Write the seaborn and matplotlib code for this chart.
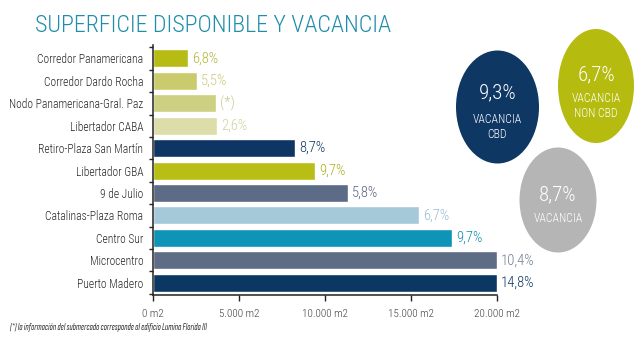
import matplotlib
matplotlib.use("Agg")
import matplotlib.pyplot as plt
import seaborn as sns
import pandas as pd
from matplotlib.patches import Ellipse
from matplotlib.ticker import FixedLocator

categories = ["Corredor Panamericana", "Corredor Dardo Rocha", "Nodo Panamericana-Gral. Paz",
              "Libertador CABA", "Retiro-Plaza San Martín", "Libertador GBA", "9 de Julio",
              "Catalinas-Plaza Roma", "Centro Sur", "Microcentro", "Puerto Madero"]
superficie = [2040, 2540, 3660, 3740, 8280, 9400, 11340, 15470, 17380, 20000, 20000]
vacancia_labels = ["6,8%", "5,5%", "(*)", "2,6%", "8,7%", "9,7%", "5,8%", "6,7%", "9,7%", "10,4%", "14,8%"]
bar_colors = ["#B7BC14", "#C9CB6C", "#CDCF82", "#DCDDA8", "#0F3564", "#B8BE14", "#5C6B86",
              "#A6C9DA", "#0E94B6", "#5E6C85", "#0D3763"]
label_colors = ["#B3B536", "#C9C97E", "#C9CA90", "#D0D1A0", "#0F3564", "#ADB01A", "#55647E",
                "#98BDD0", "#0E8BAE", "#717E93", "#0D3763"]
x_ticks = [0, 5000, 10000, 15000, 20000]
x_tick_labels = ["0 m2", "5.000 m2", "10.000 m2", "15.000 m2", "20.000 m2"]

circle_values = ["9,3%", "6,7%", "8,7%"]
circle_captions = ["VACANCIA\nCBD", "VACANCIA\nNON CBD", "VACANCIA"]
circle_colors = ["#0F3764", "#B5BC0F", "#B5B5B5"]

title = "SUPERFICIE DISPONIBLE Y VACANCIA"
footnote = "(*) la información del submercado corresponde al edificio Lumina Florida III"

sns.set_theme(style="white")
NARROW = ["Roboto Condensed", "Archivo Narrow", "Liberation Sans", "DejaVu Sans"]
FOOT = ["Sofia Sans Extra Condensed", "Open Sans Condensed", "Roboto Condensed", "DejaVu Sans"]
plt.rcParams["font.family"] = NARROW
plt.rcParams["font.weight"] = 300

W, H = 640, 338
fig = plt.figure(figsize=(W / 100, H / 100), dpi=100)
fig.patch.set_facecolor("white")

ax = fig.add_axes([153 / W, 1 - 295 / H, (497 - 153) / W, (295 - 45) / H])
df = pd.DataFrame({"cat": categories, "val": superficie})
sns.barplot(data=df, x="val", y="cat", hue="cat", palette=bar_colors, legend=False,
            orient="h", width=0.8, saturation=1, ax=ax)
ax.set_xlim(0, 20000)
ax.set_ylim(10.55, -0.6)
ax.set_xlabel("")
ax.set_ylabel("")
ax.set_xticks(x_ticks)
ax.set_xticklabels(x_tick_labels, fontsize=8, color="#3f3f3f")
ax.tick_params(axis="x", direction="out", length=4, width=1, color="#222222", pad=6, bottom=True)
ax.tick_params(axis="y", which="major", length=0, pad=7, labelsize=8.3, labelcolor="#262626")
ax.yaxis.set_minor_locator(FixedLocator([i + 0.5 for i in range(-1, len(categories))]))
ax.tick_params(axis="y", which="minor", direction="out", length=3, width=1, color="#222222", left=True)
for s in ["top", "right"]:
    ax.spines[s].set_visible(False)
for s in ["left", "bottom"]:
    ax.spines[s].set_color("#222222")
    ax.spines[s].set_linewidth(1.1)

for i, (v, lab, c) in enumerate(zip(superficie, vacancia_labels, label_colors)):
    ax.annotate(lab, xy=(v, i), xytext=(3, 0), textcoords="offset points",
                ha="left", va="center", fontsize=10.5, color=c, annotation_clip=False)

# overlay in pixel coordinates
ov2 = fig.add_axes([0, 0, 1, 1], zorder=5)
ov2.set_xlim(0, W)
ov2.set_ylim(H, 0)
ov2.axis("off")
ov2.patch.set_alpha(0)

ellipses = [((497.5, 107), 83, 113), ((596, 86), 76, 114), ((558, 200), 77, 105)]
for (cxy, w, h), col in zip(ellipses, circle_colors):
    ov2.add_patch(Ellipse(cxy, w, h, facecolor=col, edgecolor="none"))

ov2.text(497.5, 93, circle_values[0], ha="center", va="center", fontsize=15, color="white")
ov2.text(497.5, 127, circle_captions[0], ha="center", va="center", fontsize=8.5, color="white",
         linespacing=1.25)
ov2.text(596, 75, circle_values[1], ha="center", va="center", fontsize=15, color="white")
ov2.text(596, 106, circle_captions[1], ha="center", va="center", fontsize=8.5, color="white",
         linespacing=1.25)
ov2.text(558, 195, circle_values[2], ha="center", va="center", fontsize=15, color="white")
ov2.text(558, 218, circle_captions[2], ha="center", va="center", fontsize=8.5, color="white")

ov2.text(35, 25, title, ha="left", va="center", fontsize=17.3, color="#1F8EAA")
ov2.text(10, 327, footnote, ha="left", va="center", fontsize=7.1, color="#333333", style="italic",
         weight="normal", family=FOOT)

fig.savefig("out.png", dpi=100, facecolor="white")
